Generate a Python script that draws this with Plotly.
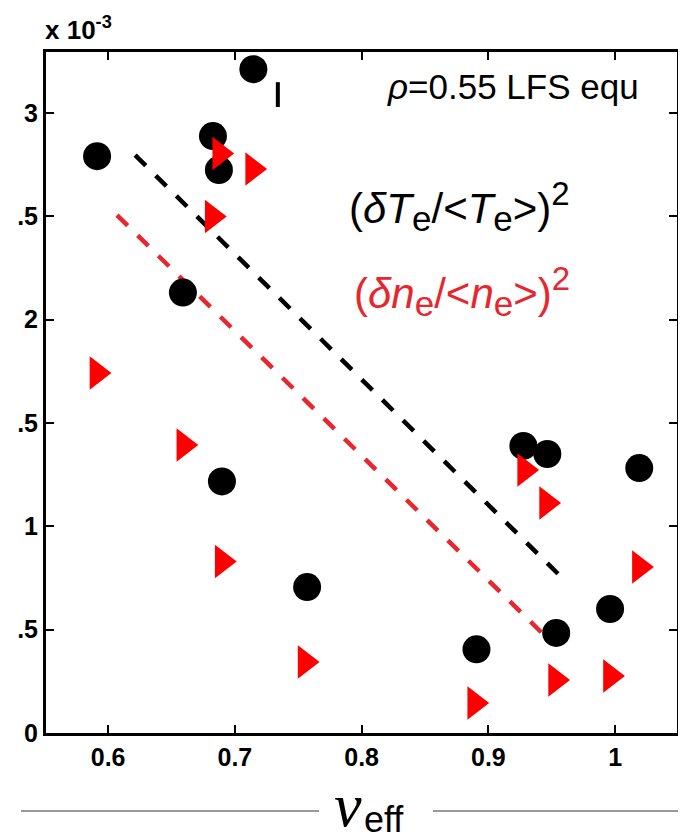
import plotly.graph_objects as go

# values in units of 1e-3
te_x = [0.5913, 0.7146, 0.6827, 0.6874, 0.659, 0.6898, 0.757, 0.8906, 0.9276, 0.9465, 0.9535, 0.996, 1.019]
te_y = [2.791, 3.212, 2.888, 2.724, 2.131, 1.217, 0.706, 0.405, 1.389, 1.35, 0.484, 0.600, 1.282]

ne_x = [0.5912, 0.6597, 0.690, 0.6821, 0.688, 0.714, 0.7554, 0.8892, 0.9286, 0.9459, 0.953, 0.9963, 1.0191]
ne_y = [1.742, 1.393, 0.830, 2.499, 2.804, 2.729, 0.343, 0.145, 1.272, 1.113, 0.256, 0.276, 0.803]

fit_te_x = [0.6213, 0.9622]
fit_te_y = [2.796, 0.726]
fit_ne_x = [0.607, 0.9504]
fit_ne_y = [2.506, 0.435]

mark_x = [0.7339, 0.7339]
mark_y = [3.029, 3.149]

x_ticks = [0.6, 0.7, 0.8, 0.9, 1.0]
x_ticktext = ["0.6", "0.7", "0.8", "0.9", "1"]
y_ticks = [0, 0.5, 1, 1.5, 2, 2.5, 3]
y_ticktext = ["0", ".5", "1", ".5", "2", ".5", "3"]

RED = "#e8262e"

fig = go.Figure()
fig.add_trace(go.Scatter(x=fit_te_x, y=fit_te_y, mode="lines",
                         line=dict(color="black", width=4.5, dash="15px,14px")))
fig.add_trace(go.Scatter(x=fit_ne_x, y=fit_ne_y, mode="lines",
                         line=dict(color=RED, width=4.5, dash="15px,14px")))
fig.add_trace(go.Scatter(x=te_x, y=te_y, mode="markers",
                         marker=dict(symbol="circle", size=28, color="black")))
fig.add_trace(go.Scatter(x=ne_x, y=ne_y, mode="markers",
                         marker=dict(symbol="triangle-right", size=29, color="#ff0000")))
fig.add_trace(go.Scatter(x=mark_x, y=mark_y, mode="lines",
                         line=dict(color="black", width=4)))

axis_common = dict(showline=True, linewidth=3, linecolor="black", mirror="ticks",
                   ticks="inside", ticklen=8, tickwidth=2, tickcolor="black",
                   showgrid=False, zeroline=False, automargin=False,
                   tickfont=dict(family="Liberation Sans", size=25, color="black", weight="bold"))

fig.update_xaxes(range=[0.551, 1.0488], tickvals=x_ticks, ticktext=x_ticktext, **axis_common)
fig.update_yaxes(range=[0, 3.295], tickvals=y_ticks, ticktext=y_ticktext, **axis_common)

# the page body adds an 8px offset, compensated in the margins
fig.update_layout(
    width=686, height=836,
    margin=dict(l=38, r=17, t=44, b=111),
    plot_bgcolor="white", paper_bgcolor="white",
    showlegend=False,
    font=dict(family="Liberation Sans", color="black"),
)

def px_x(px):
    return (px - 46) / 631.0

def px_y(py):
    return (733 - py) / 681.0

SUB = '<sub><span style="font-size:35px">e</span></sub>'
SUP = '<sup><span style="font-size:33px">2</span></sup>'

fig.add_annotation(x=px_x(641), y=px_y(86), xref="paper", yref="paper",
                   xanchor="right", yanchor="middle", showarrow=False,
                   text="<i>ρ</i>=0.55 LFS equ",
                   font=dict(family="Liberation Sans", size=35, color="black"))
fig.add_annotation(x=px_x(347), y=px_y(206), xref="paper", yref="paper",
                   xanchor="left", yanchor="middle", showarrow=False,
                   text="(<i>δT</i>" + SUB + "/&lt;<i>T</i>" + SUB + "&gt;)" + SUP,
                   font=dict(family="Liberation Sans", size=42, color="black"))
fig.add_annotation(x=px_x(352), y=px_y(291), xref="paper", yref="paper",
                   xanchor="left", yanchor="middle", showarrow=False,
                   text="(<i>δn</i>" + SUB + "/&lt;<i>n</i>" + SUB + "&gt;)" + SUP,
                   font=dict(family="Liberation Sans", size=42, color=RED))
fig.add_annotation(x=px_x(43), y=px_y(47), xref="paper", yref="paper",
                   xanchor="left", yanchor="bottom", showarrow=False,
                   text="<b>x 10<sup>-3</sup></b>",
                   font=dict(family="Liberation Sans", size=26, color="black"))
# x-axis title
fig.add_annotation(x=px_x(348), y=px_y(805), xref="paper", yref="paper",
                   xanchor="center", yanchor="middle", showarrow=False,
                   text="<i>ν</i>",
                   font=dict(family="Liberation Serif", size=62, color="black"))
fig.add_annotation(x=px_x(362), y=px_y(819), xref="paper", yref="paper",
                   xanchor="left", yanchor="middle", showarrow=False,
                   text="eff",
                   font=dict(family="Liberation Sans", size=36, color="black"))

for x0, x1 in [(21, 319), (433, 690)]:
    fig.add_shape(type="line", xref="paper", yref="paper",
                  x0=px_x(x0), x1=px_x(x1), y0=px_y(811), y1=px_y(811),
                  line=dict(color="#777777", width=1.5))

# outer frame line on the right
fig.add_shape(type="line", xref="paper", yref="paper",
              x0=px_x(681), x1=px_x(681), y0=px_y(734), y1=px_y(51),
              line=dict(color="black", width=1.5))

fig.write_html("out.html")
